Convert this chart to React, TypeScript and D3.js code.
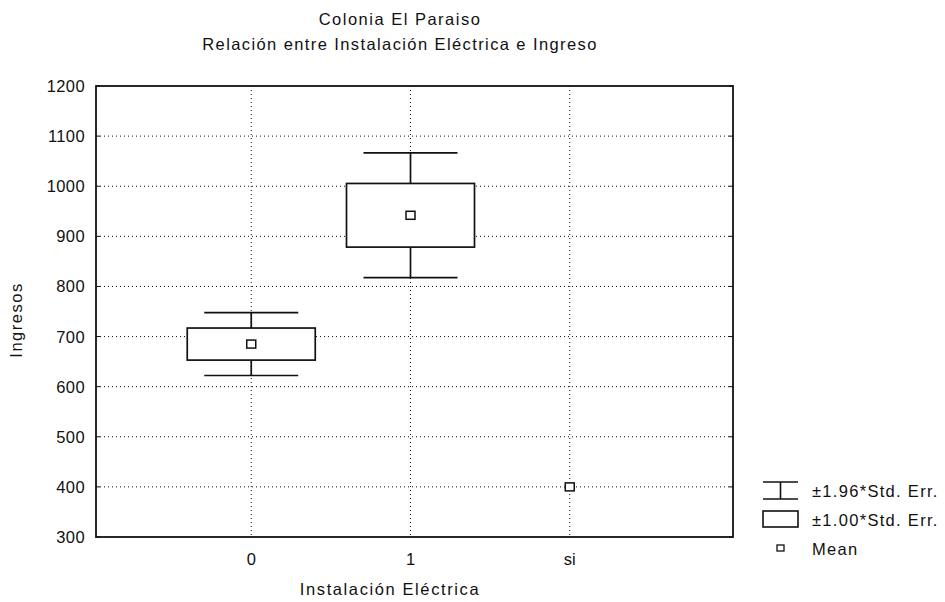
import React, { useEffect, useRef } from 'react'
import * as d3 from 'd3'

// categorías del eje X
const CATEGORIES = ['0', '1', 'si']
// media de Ingresos por categoría
const MEANS = [685, 942, 400]
// error estándar (0 = sólo se muestra la media)
const STD_ERRS = [32, 63.5, 0]
const Y_TICKS = [300, 400, 500, 600, 700, 800, 900, 1000, 1100, 1200]
const LEGEND_LABELS = ['±1.96*Std. Err.', '±1.00*Std. Err.', 'Mean']

const WIDTH = 945
const HEIGHT = 602
const FONT = '"Liberation Sans", Arial, sans-serif'

const App: React.FC = () => {
  const svgRef = useRef<SVGSVGElement>(null)

  useEffect(() => {
    if (!svgRef.current) return
    const svg = d3.select(svgRef.current)
    svg.selectAll('*').remove()

    const left = 96, right = 733, top = 86, bottom = 537

    const x = d3.scalePoint<string>()
      .domain(CATEGORIES)
      .range([left - 4, right - 4])
      .padding(1)

    const y = d3.scaleLinear().domain([300, 1200]).range([bottom, top])

    svg.append('rect').attr('width', WIDTH).attr('height', HEIGHT).attr('fill', '#fff')

    // grilla punteada
    const grid = svg.append('g')
      .attr('stroke', '#111')
      .attr('stroke-width', 1)
      .attr('stroke-dasharray', '1 3')
    Y_TICKS.slice(1, -1).forEach(t => {
      grid.append('line')
        .attr('x1', left).attr('x2', right)
        .attr('y1', y(t)).attr('y2', y(t))
    })
    CATEGORIES.forEach(c => {
      grid.append('line')
        .attr('x1', x(c)!).attr('x2', x(c)!)
        .attr('y1', top).attr('y2', bottom)
    })

    // cajas y bigotes
    const boxHalf = 64
    const capHalf = 47
    CATEGORIES.forEach((c, i) => {
      const cx = x(c)!
      const m = MEANS[i]
      const se = STD_ERRS[i]
      const g = svg.append('g').attr('stroke', '#111').attr('stroke-width', 1.7).attr('fill', 'none')
      if (se > 0) {
        const hiW = m + 1.96 * se
        const loW = m - 1.96 * se
        g.append('line').attr('x1', cx).attr('x2', cx).attr('y1', y(hiW)).attr('y2', y(loW))
        g.append('line').attr('x1', cx - capHalf).attr('x2', cx + capHalf).attr('y1', y(hiW)).attr('y2', y(hiW))
        g.append('line').attr('x1', cx - capHalf).attr('x2', cx + capHalf).attr('y1', y(loW)).attr('y2', y(loW))
        g.append('rect')
          .attr('x', cx - boxHalf)
          .attr('y', y(m + se))
          .attr('width', boxHalf * 2)
          .attr('height', y(m - se) - y(m + se))
          .attr('fill', '#fff')
      }
      g.append('rect')
        .attr('x', cx - 4.5).attr('y', y(m) - 4)
        .attr('width', 9).attr('height', 8)
        .attr('fill', '#fff')
        .attr('stroke-width', 1.5)
    })

    // marco
    svg.append('rect')
      .attr('x', left).attr('y', top)
      .attr('width', right - left).attr('height', bottom - top)
      .attr('fill', 'none').attr('stroke', '#111').attr('stroke-width', 1.8)

    // marcas del eje
    const ticks = svg.append('g').attr('stroke', '#111').attr('stroke-width', 1)
    Y_TICKS.forEach(t => {
      ticks.append('line').attr('x1', left).attr('x2', left + 4).attr('y1', y(t)).attr('y2', y(t))
      ticks.append('line').attr('x1', right - 4).attr('x2', right).attr('y1', y(t)).attr('y2', y(t))
    })

    const text = svg.append('g')
      .attr('font-family', FONT)
      .attr('font-size', 16.5)
      .attr('fill', '#111')

    Y_TICKS.forEach(t => {
      text.append('text')
        .attr('x', left - 11).attr('y', y(t) + 6)
        .attr('text-anchor', 'end')
        .attr('letter-spacing', 0.4)
        .text(t)
    })
    CATEGORIES.forEach(c => {
      text.append('text')
        .attr('x', x(c)!).attr('y', 565)
        .attr('text-anchor', 'middle')
        .text(c)
    })

    const mid = 400
    text.append('text').attr('x', mid).attr('y', 25).attr('text-anchor', 'middle')
      .attr('letter-spacing', 1.5).text('Colonia El Paraiso')
    text.append('text').attr('x', mid).attr('y', 50).attr('text-anchor', 'middle')
      .attr('letter-spacing', 1.4).text('Relación entre Instalación Eléctrica e Ingreso')
    text.append('text').attr('x', 390).attr('y', 595).attr('text-anchor', 'middle')
      .attr('letter-spacing', 1.6).text('Instalación Eléctrica')
    text.append('text')
      .attr('transform', `translate(22, 320) rotate(-90)`)
      .attr('text-anchor', 'middle')
      .attr('letter-spacing', 1.5)
      .text('Ingresos')

    // leyenda
    const lx = 763, lw = 35
    const lg = svg.append('g').attr('stroke', '#111').attr('stroke-width', 1.6).attr('fill', 'none')
    lg.append('line').attr('x1', lx).attr('x2', lx + lw).attr('y1', 482).attr('y2', 482)
    lg.append('line').attr('x1', lx).attr('x2', lx + lw).attr('y1', 499).attr('y2', 499)
    lg.append('line').attr('x1', lx + lw / 2).attr('x2', lx + lw / 2).attr('y1', 482).attr('y2', 499)
    lg.append('rect').attr('x', lx).attr('y', 511).attr('width', lw).attr('height', 16)
    lg.append('rect').attr('x', 777).attr('y', 545).attr('width', 7).attr('height', 6)
      .attr('stroke-width', 1.3)

    const legendY = [497, 526, 555]
    LEGEND_LABELS.forEach((l, i) => {
      text.append('text')
        .attr('x', 812).attr('y', legendY[i])
        .attr('letter-spacing', 1.3)
        .text(l)
    })
  }, [])

  return (
    <svg
      ref={svgRef}
      width={WIDTH}
      height={HEIGHT}
      style={{ position: 'absolute', left: 0, top: 0, display: 'block' }}
    />
  )
}

export default App
